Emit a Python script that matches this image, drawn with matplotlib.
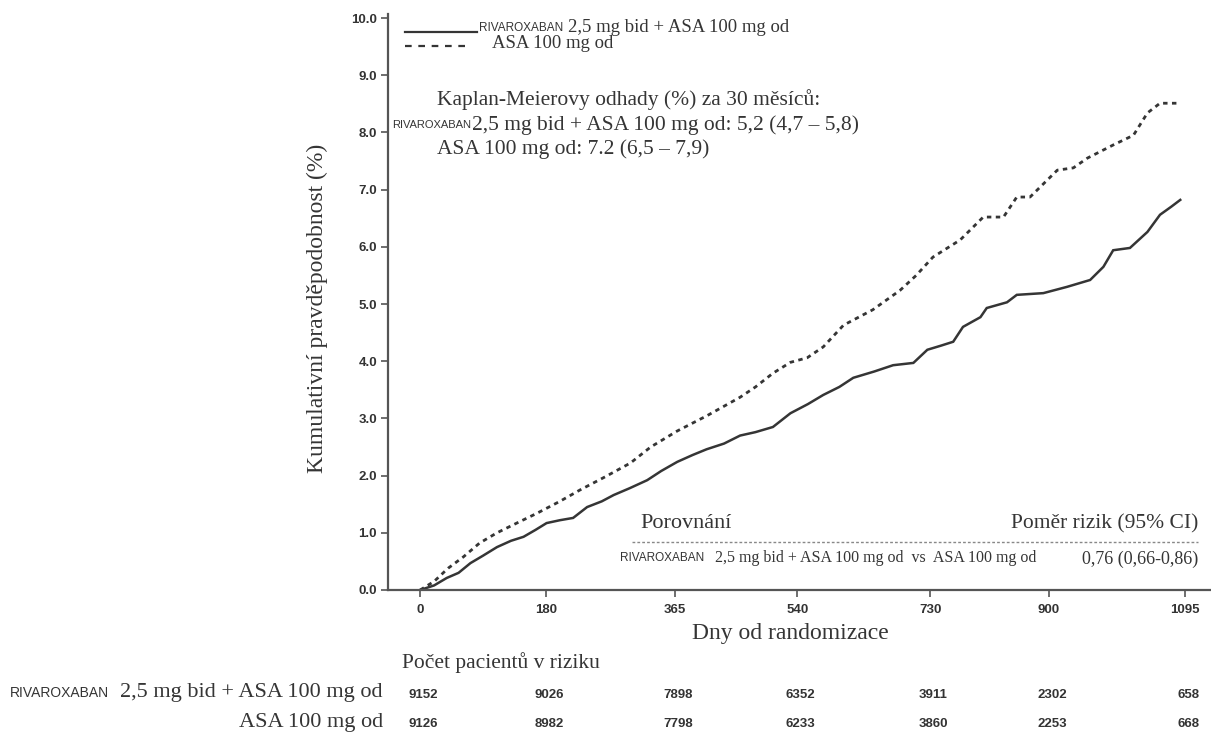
import matplotlib
matplotlib.use("Agg")
import matplotlib.pyplot as plt

W, H = 1211, 740

# ---------------- data ----------------
riva_days = [0, 20, 38, 55, 72, 90, 110, 130, 148, 165, 181, 200, 219, 239, 260, 277, 300, 325, 345, 368,
             390, 410, 435, 458, 480, 505, 530, 555, 577, 600, 620, 650, 677, 706, 726, 745, 763, 777, 802,
             811, 840, 854, 892, 926, 959, 978, 992, 1016, 1041, 1059, 1075, 1088]
riva_vals = [0.0, 0.08, 0.21, 0.30, 0.47, 0.60, 0.75, 0.86, 0.93, 1.05, 1.17, 1.22, 1.26, 1.45, 1.55, 1.66,
             1.78, 1.92, 2.08, 2.24, 2.36, 2.46, 2.56, 2.70, 2.76, 2.85, 3.09, 3.25, 3.41, 3.55, 3.71, 3.82,
             3.93, 3.97, 4.20, 4.27, 4.34, 4.60, 4.77, 4.93, 5.03, 5.16, 5.19, 5.30, 5.42, 5.65, 5.94, 5.98,
             6.26, 6.56, 6.70, 6.82]

asa_days = [0, 20, 40, 62, 85, 110, 140, 167, 200, 229, 265, 301, 330, 368, 411, 458, 480, 505, 530, 554,
            577, 606, 648, 687, 710, 734, 773, 806, 835, 854, 873, 912, 935, 955, 992, 1021, 1041, 1059, 1088]
asa_vals = [0.0, 0.15, 0.38, 0.58, 0.82, 1.00, 1.18, 1.34, 1.55, 1.75, 1.98, 2.22, 2.50, 2.78, 3.05, 3.37,
            3.55, 3.79, 3.98, 4.06, 4.25, 4.63, 4.90, 5.24, 5.50, 5.82, 6.12, 6.52, 6.52, 6.87, 6.87, 7.34,
            7.38, 7.55, 7.78, 7.95, 8.34, 8.51, 8.51]

x_ticks = [0, 180, 365, 540, 730, 900, 1095]
y_ticks = [0.0, 1.0, 2.0, 3.0, 4.0, 5.0, 6.0, 7.0, 8.0, 9.0, 10.0]
risk_riva = [9152, 9026, 7898, 6352, 3911, 2302, 658]
risk_asa = [9126, 8982, 7798, 6233, 3860, 2253, 668]

# ---------------- figure ----------------
SERIF = "Liberation Serif"
SANS = "Liberation Sans"
INK = "#353535"

fig = plt.figure(figsize=(W / 100, H / 100), dpi=100)

def fx(px):
    return px / W

def fy(py):
    return 1 - py / H

PT = 72 / 100  # points per pixel

ax_left, ax_right, ax_top, ax_bottom = 388, 1211, 14, 590
ax = fig.add_axes([fx(ax_left), fy(ax_bottom), fx(ax_right - ax_left), (ax_bottom - ax_top) / H])

ax.plot(riva_days, riva_vals, color=INK, lw=1.8, solid_joinstyle="miter")
ax.plot(asa_days, asa_vals, color=INK, lw=2.0, linestyle=(0, (1.6, 1.6)))

ax.set_xlim(-46, 1132)
ax.set_ylim(0, 10.07)
ax.set_xticks(x_ticks)
ax.set_xticklabels([str(t) for t in x_ticks])
ax.set_yticks(y_ticks)
ax.set_yticklabels([f"{t:.1f}" for t in y_ticks])
for lab in ax.get_xticklabels() + ax.get_yticklabels():
    lab.set_fontfamily(SANS)
    lab.set_fontweight("bold")
    lab.set_fontsize(9.5)
    lab.set_color("#333333")
ax.tick_params(axis="both", direction="out", length=5, width=1.2, color="#555555")
ax.tick_params(axis="x", pad=5)
ax.tick_params(axis="y", pad=3)
for s in ["top", "right"]:
    ax.spines[s].set_visible(False)
for s in ["left", "bottom"]:
    ax.spines[s].set_color("#555555")
    ax.spines[s].set_linewidth(1.6)

# y label
fig.text(fx(317), fy(308), "Kumulativní pravděpodobnost (%)", rotation=90, ha="center", va="center",
         fontfamily=SERIF, fontsize=17, color=INK)
# x label
fig.text(fx(790), fy(634), "Dny od randomizace", ha="center", va="center",
         fontfamily=SERIF, fontsize=17, color=INK)

# legend
fig.add_artist(plt.Line2D([fx(405), fx(477)], [fy(32), fy(32)], color=INK, lw=1.6))
fig.add_artist(plt.Line2D([fx(405), fx(467)], [fy(46), fy(46)], color=INK, lw=1.6, linestyle=(0, (3, 3))))
fig.text(fx(479), fy(28), "RIVAROXABAN", ha="left", va="center", fontfamily=SANS, fontsize=8.5, color=INK)
fig.text(fx(568), fy(27), "2,5 mg bid + ASA 100 mg od", ha="left", va="center", fontfamily=SERIF,
         fontsize=13.5, color=INK)
fig.text(fx(492), fy(44), "ASA 100 mg od", ha="left", va="center", fontfamily=SERIF, fontsize=13.5, color=INK)

# KM estimates
fig.text(fx(437), fy(100), "Kaplan-Meierovy odhady (%) za 30 měsíců:", ha="left", va="center",
         fontfamily=SERIF, fontsize=15.5, color=INK)
fig.text(fx(392), fy(125), "RIVAROXABAN", ha="left", va="center", fontfamily=SANS, fontsize=8, color=INK)
fig.text(fx(472), fy(125), "2,5 mg bid + ASA 100 mg od: 5,2 (4,7 – 5,8)", ha="left", va="center",
         fontfamily=SERIF, fontsize=15.5, color=INK)
fig.text(fx(437), fy(149), "ASA 100 mg od: 7.2 (6,5 – 7,9)", ha="left", va="center",
         fontfamily=SERIF, fontsize=15.5, color=INK)

# HR table
fig.text(fx(640), fy(524), "Porovnání", ha="left", va="center", fontfamily=SERIF, fontsize=16, color=INK)
fig.text(fx(1198), fy(524), "Poměr rizik (95% CI)", ha="right", va="center", fontfamily=SERIF,
         fontsize=15.5, color=INK)
fig.add_artist(plt.Line2D([fx(632), fx(1198)], [fy(542), fy(542)], color="#888888", lw=1.0,
                          linestyle=(0, (2, 1.5))))
fig.text(fx(620), fy(558), "RIVAROXABAN", ha="left", va="center", fontfamily=SANS, fontsize=8.5, color=INK)
fig.text(fx(715), fy(558), "2,5 mg bid + ASA 100 mg od  vs  ASA 100 mg od", ha="left", va="center",
         fontfamily=SERIF, fontsize=11.5, color=INK)
fig.text(fx(1198), fy(559), "0,76 (0,66-0,86)", ha="right", va="center", fontfamily=SERIF,
         fontsize=13, color=INK)

# risk table
fig.text(fx(402), fy(663), "Počet pacientů v riziku", ha="left", va="center", fontfamily=SERIF,
         fontsize=15.5, color=INK)
fig.text(fx(383), fy(693), "2,5 mg bid + ASA 100 mg od", ha="right", va="center", fontfamily=SERIF,
         fontsize=16, color=INK)
fig.text(fx(10), fy(693), "RIVAROXABAN", ha="left", va="center", fontfamily=SANS, fontsize=10, color=INK)
fig.text(fx(383), fy(722), "ASA 100 mg od", ha="right", va="center", fontfamily=SERIF,
         fontsize=16, color=INK)

trans = ax.get_xaxis_transform()
for t, a, b in zip(x_ticks, risk_riva, risk_asa):
    ax.annotate(str(a), xy=(t, 0), xycoords=trans, xytext=(3 * PT, -(695 - ax_bottom) * PT),
                textcoords="offset points", ha="center", va="center", fontfamily=SANS,
                fontweight="bold", fontsize=9.5, color="#333333", annotation_clip=False)
    ax.annotate(str(b), xy=(t, 0), xycoords=trans, xytext=(3 * PT, -(724 - ax_bottom) * PT),
                textcoords="offset points", ha="center", va="center", fontfamily=SANS,
                fontweight="bold", fontsize=9.5, color="#333333", annotation_clip=False)

fig.savefig("out.png", dpi=100, facecolor="white")
